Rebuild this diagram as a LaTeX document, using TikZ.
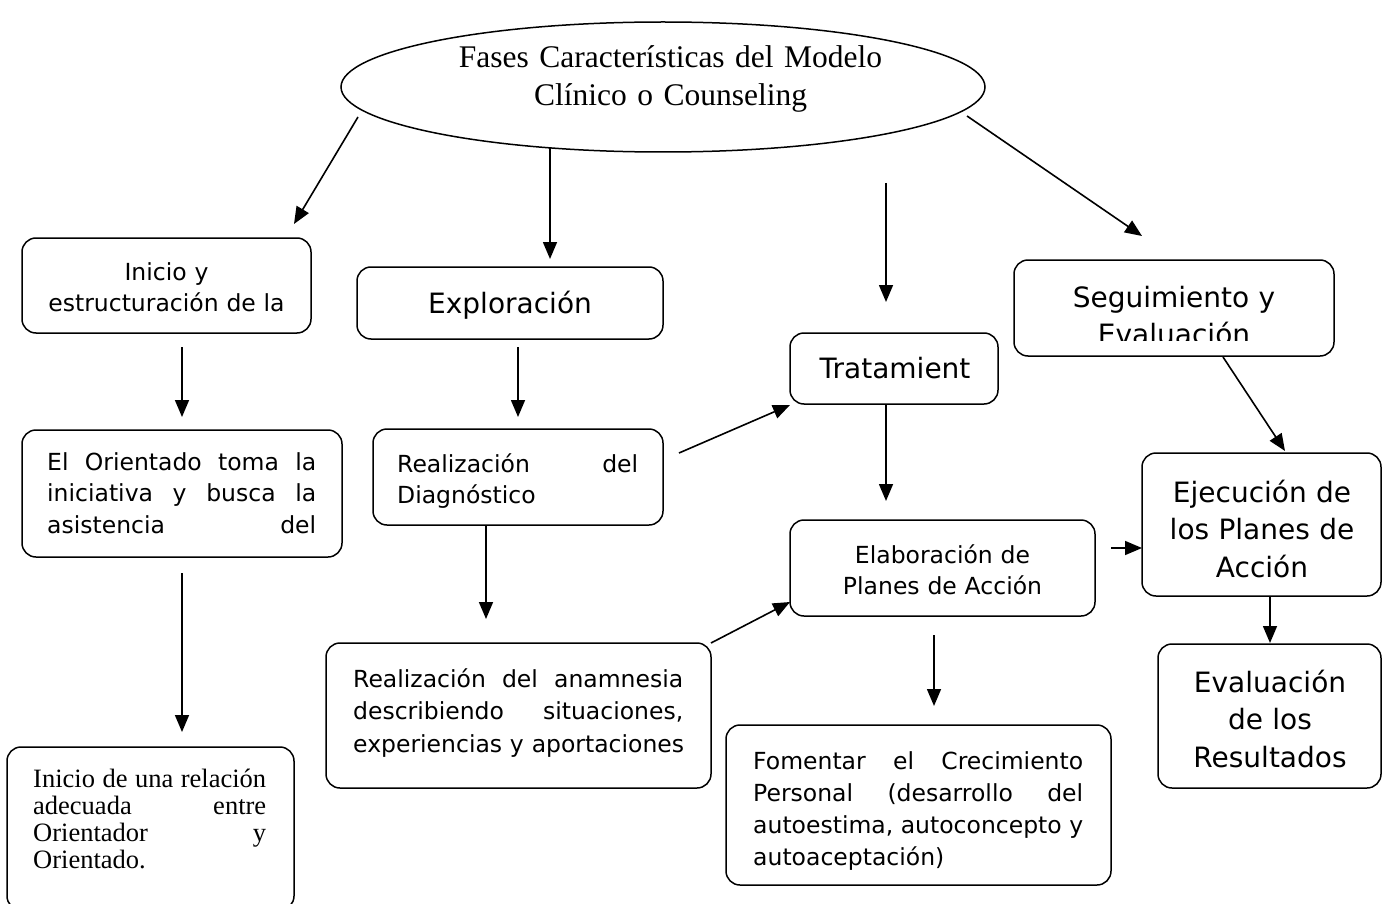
\documentclass[tikz,border=0pt]{standalone}
\usepackage{fontspec}
\setmainfont{Liberation Serif}
\newfontfamily\tah{DejaVu Sans}
\usetikzlibrary{arrows.meta,shapes.geometric}
\newcommand{\jline}[2]{\leavevmode\hbox to #1{#2}}
\newcommand{\lline}[2]{\leavevmode\hbox to #1{#2\hfill}}
\begin{document}
\begin{tikzpicture}[x=1pt,y=-1pt,
  box/.style={draw, line width=1.5pt, rounded corners=14pt, inner sep=0pt},
  conn/.style={line width=1.6pt, -{Triangle[width=14pt,length=17pt]}},
  txt/.style={inner sep=0pt, font=\tah\fontsize{23.5}{31.5}\selectfont},
  bigtxt/.style={inner sep=0pt, font=\tah\fontsize{28}{37.5}\selectfont},
  sertxt/.style={inner sep=0pt, font=\fontsize{26.5}{27.2}\selectfont}]
\useasboundingbox (0,0) rectangle (1383,904);
\fill[white] (0,0) rectangle (1383,904);

% title ellipse
\node[draw, ellipse, line width=1.5pt, minimum width=644pt, minimum height=130pt, inner sep=0pt] (top) at (663,87) {};
\node[inner sep=0pt, font=\fontsize{31.5}{38}\selectfont, text width=460pt, align=center, anchor=base] (tT) at (670.5,68) {Fases Características del Modelo\\Clínico o Counseling};

% boxes
\node[box, minimum width=289pt, minimum height=95pt] (A) at (166.5,285.5) {};
\node[box, minimum width=306pt, minimum height=72pt] (B) at (510,303) {};
\node[box, minimum width=208pt, minimum height=71pt] (C) at (894,368.5) {};
\node[box, minimum width=320pt, minimum height=96pt] (D) at (1174,308) {};
\node[box, minimum width=320pt, minimum height=127pt] (E) at (182,493.5) {};
\node[box, minimum width=290pt, minimum height=96pt] (F) at (518,477) {};
\node[box, minimum width=305pt, minimum height=96pt] (G) at (942.5,568) {};
\node[box, minimum width=239pt, minimum height=143pt] (H) at (1261.5,524.5) {};
\node[box, minimum width=287pt, minimum height=163pt] (I) at (150.5,828.5) {};
\node[box, minimum width=385pt, minimum height=145pt] (J) at (518.5,715.5) {};
\node[box, minimum width=223pt, minimum height=144pt] (K) at (1269.5,716) {};
\node[box, minimum width=385pt, minimum height=160pt] (L) at (918.5,805) {};

% texts
\node[txt, text width=289pt, align=center, anchor=base] (tA) at (166.5,280) {Inicio y\\estructuración de la};
\node[bigtxt, text width=306pt, align=center, anchor=base] (tB) at (510,313) {Exploración};
\node[bigtxt, text width=208pt, align=center, anchor=base] (tC) at (895,378) {Tratamient};
\begin{scope}
  \clip (1010,255) rectangle (1340,340);
  \node[bigtxt, text width=320pt, align=center, anchor=base] (tD) at (1174,307) {Seguimiento y\\Evaluación};
\end{scope}
\node[txt, text width=269pt, align=left, anchor=base west] (tE) at (47,470) {\jline{269pt}{El\hfill Orientado\hfill toma\hfill la}\\\jline{269pt}{iniciativa\hfill y\hfill busca\hfill la}\\\jline{269pt}{asistencia\hfill del}};
\node[txt, text width=241pt, align=left, anchor=base west] (tF) at (397,472) {\jline{241pt}{Realización\hfill del}\\\lline{241pt}{Diagnóstico}};
\node[txt, text width=305pt, align=center, anchor=base] (tG) at (942.5,563) {Elaboración de\\Planes de Acción};
\node[bigtxt, text width=239pt, align=center, anchor=base] (tH) at (1262,502) {Ejecución de\\los Planes de\\Acción};
\node[sertxt, text width=233pt, align=left, anchor=base west] (tI) at (33,787) {\jline{233pt}{Inicio\hfill de\hfill una\hfill relación}\\\jline{233pt}{adecuada\hfill entre}\\\jline{233pt}{Orientador\hfill y}\\\lline{233pt}{Orientado.}};
\node[txt, text width=330pt, align=left, anchor=base west, font=\tah\fontsize{23.5}{32.5}\selectfont] (tJ) at (353,687) {\jline{330pt}{Realización\hfill del\hfill anamnesia}\\\jline{330pt}{describiendo\hfill situaciones,}\\\lline{330pt}{experiencias y aportaciones}};
\node[bigtxt, text width=223pt, align=center, anchor=base] (tK) at (1270,692) {Evaluación\\de los\\Resultados};
\node[txt, text width=330pt, align=left, anchor=base west, font=\tah\fontsize{23.5}{32}\selectfont] (tL) at (753,769) {\jline{330pt}{Fomentar\hfill el\hfill Crecimiento}\\\jline{330pt}{Personal\hfill (desarrollo\hfill del}\\\jline{330pt}{autoestima,\hfill autoconcepto\hfill y}\\\lline{330pt}{autoaceptación)}};

% connector end points
\coordinate (c1s) at (358,117);  \coordinate (c1e) at (294,224);
\coordinate (c2s) at (550,148);  \coordinate (c2e) at (550,259);
\coordinate (c3s) at (886,183);  \coordinate (c3e) at (886,302);
\coordinate (c4s) at (967,116);  \coordinate (c4e) at (1142,236);
\coordinate (c5s) at (182,347);  \coordinate (c5e) at (182,417);
\coordinate (c6s) at (518,347);  \coordinate (c6e) at (518,417);
\coordinate (c7s) at (182,573);  \coordinate (c7e) at (182,732);
\coordinate (c8s) at (486,525);  \coordinate (c8e) at (486,619);
\coordinate (c9s) at (679,453);  \coordinate (c9e) at (790,405);
\coordinate (c10s) at (711,643); \coordinate (c10e) at (790,602);
\coordinate (c11s) at (886,404); \coordinate (c11e) at (886,501);
\coordinate (c12s) at (934,635); \coordinate (c12e) at (934,706);
\coordinate (c13s) at (1111,548); \coordinate (c13e) at (1142,548);
\coordinate (c14s) at (1223,357); \coordinate (c14e) at (1285,451);
\coordinate (c15s) at (1270,596); \coordinate (c15e) at (1270,643);

% connectors
\draw[conn] (c1s) -- (c1e);
\draw[conn] (c2s) -- (c2e);
\draw[conn] (c3s) -- (c3e);
\draw[conn] (c4s) -- (c4e);
\draw[conn] (c5s) -- (c5e);
\draw[conn] (c6s) -- (c6e);
\draw[conn] (c7s) -- (c7e);
\draw[conn] (c8s) -- (c8e);
\draw[conn] (c9s) -- (c9e);
\draw[conn] (c10s) -- (c10e);
\draw[conn] (c11s) -- (c11e);
\draw[conn] (c12s) -- (c12e);
\draw[conn] (c13s) -- (c13e);
\draw[conn] (c14s) -- (c14e);
\draw[conn] (c15s) -- (c15e);
\end{tikzpicture}
\end{document}
